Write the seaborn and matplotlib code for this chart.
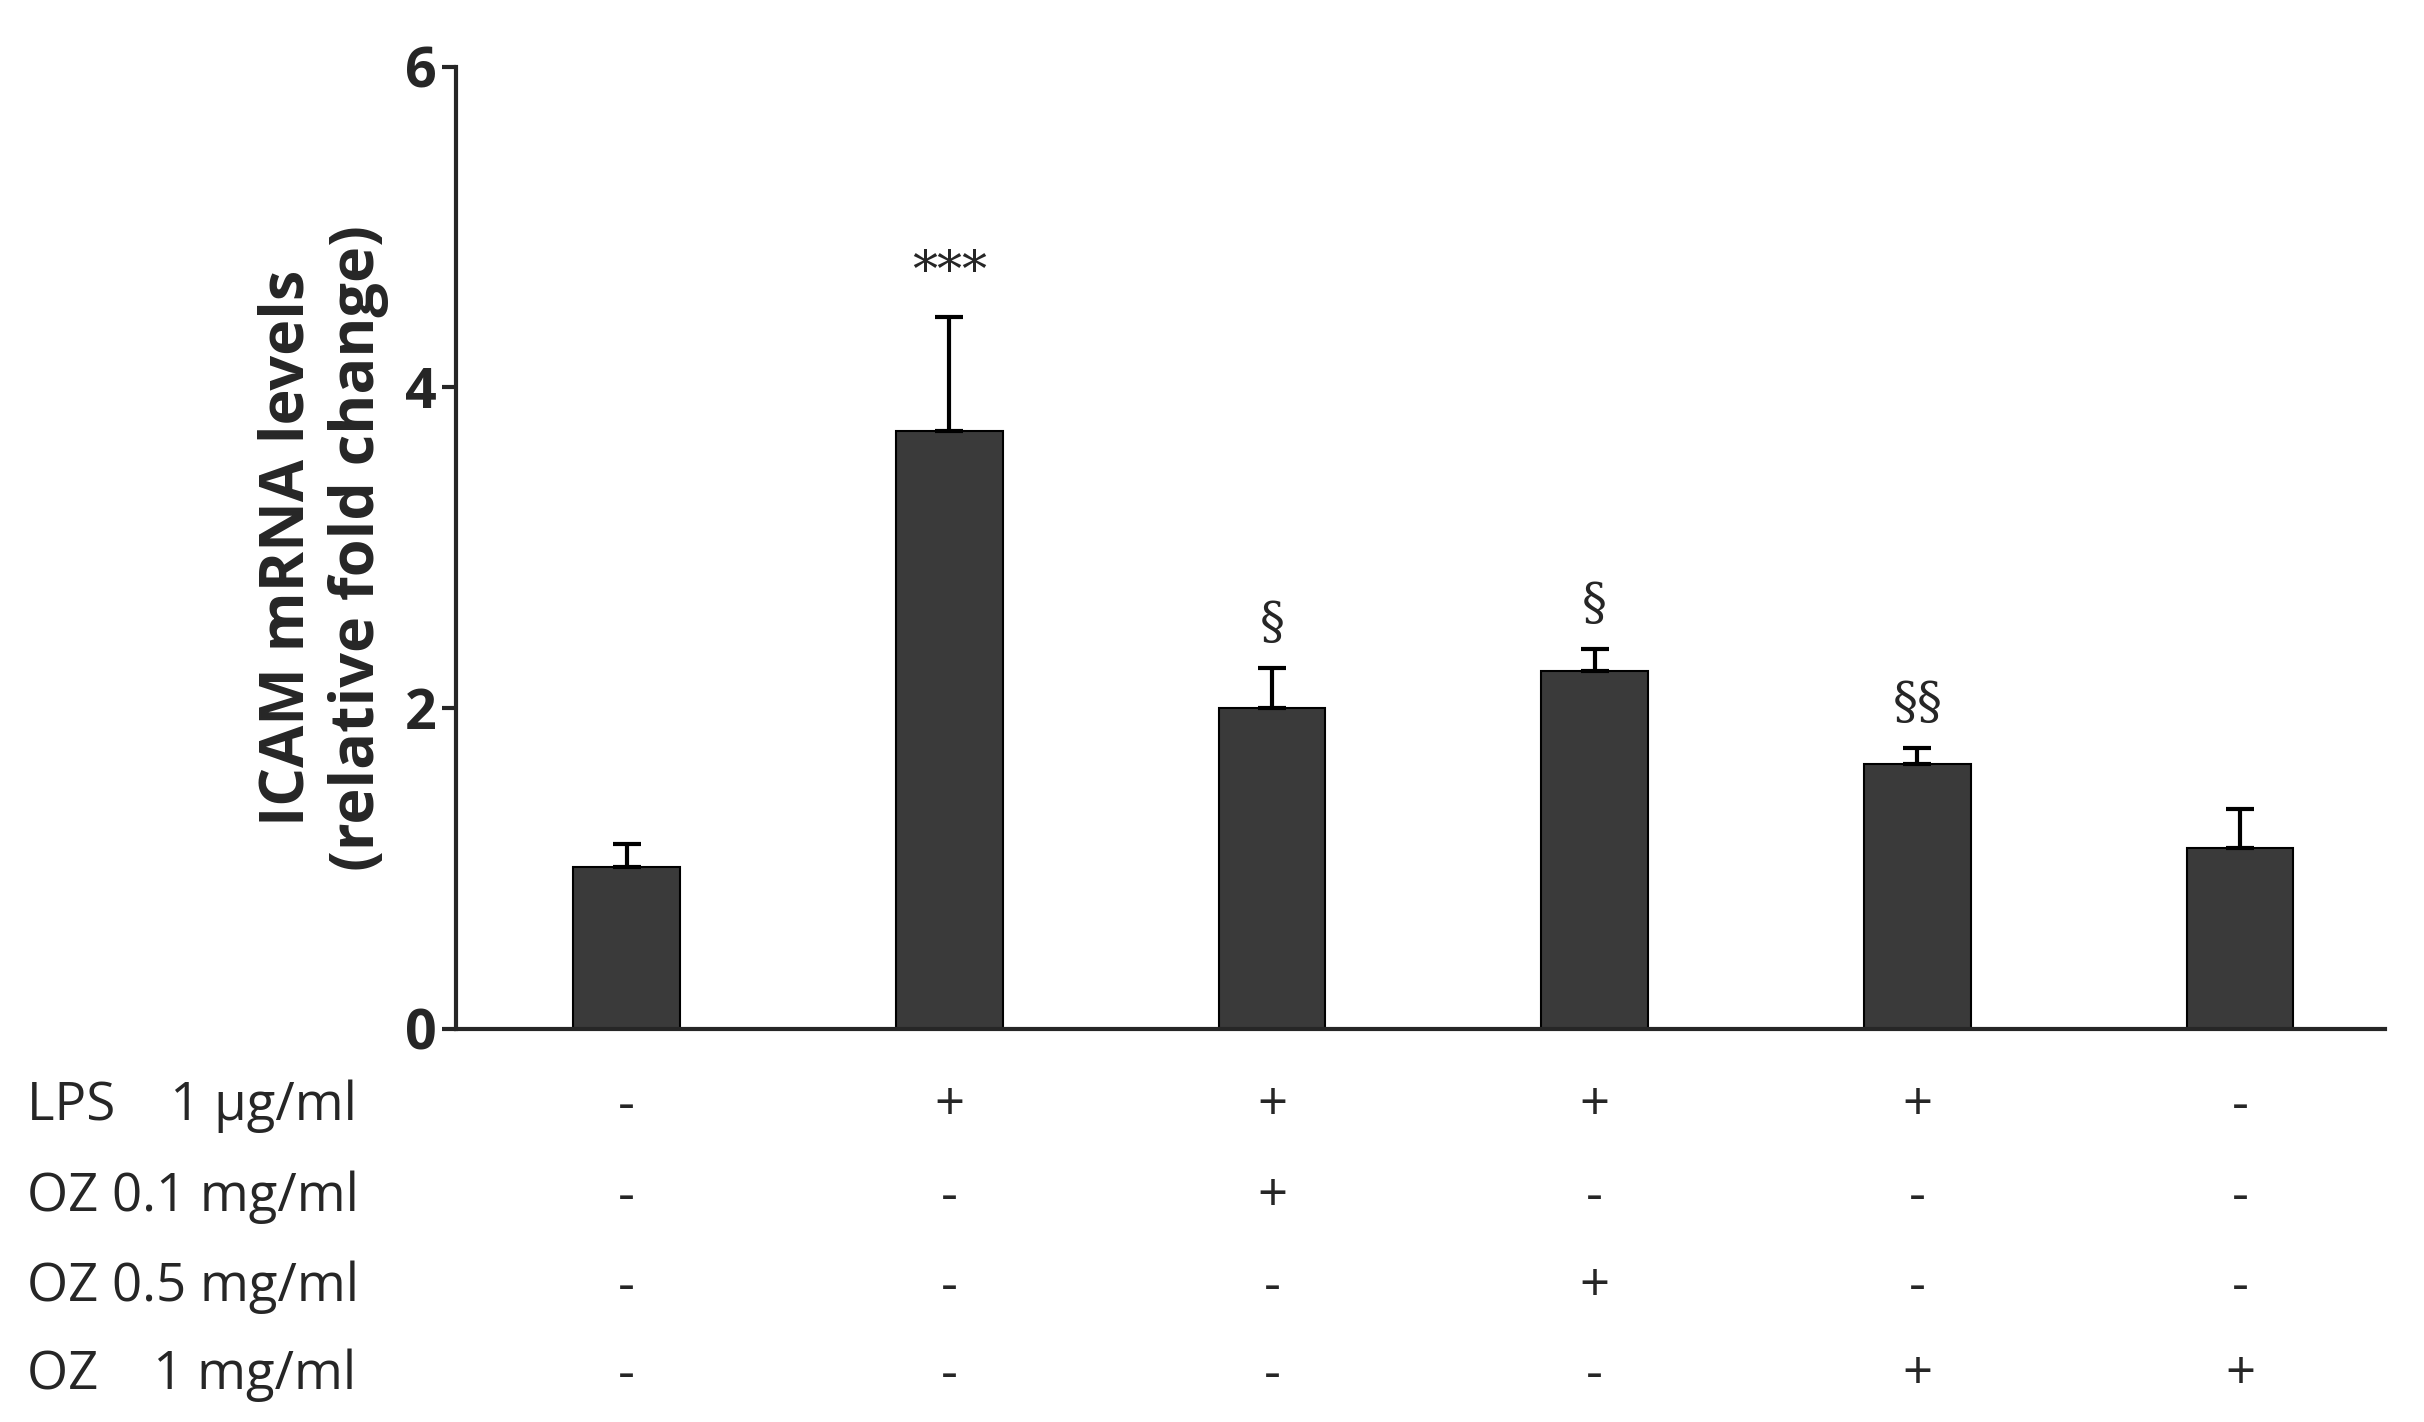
import numpy as np
import pandas as pd
import seaborn as sns
import matplotlib.pyplot as plt
from matplotlib.transforms import blended_transform_factory

groups = ['G1', 'G2', 'G3', 'G4', 'G5', 'G6']
means = [1.01, 3.73, 2.00, 2.23, 1.65, 1.13]
errs = [0.14, 0.71, 0.25, 0.14, 0.10, 0.24]
marks = ['', '***', '§', '§', '§§', '']
row_labels = ['LPS    1 µg/ml', 'OZ 0.1 mg/ml', 'OZ 0.5 mg/ml', 'OZ    1 mg/ml']
row_signs = [
    ['-', '+', '+', '+', '+', '-'],
    ['-', '-', '+', '-', '-', '-'],
    ['-', '-', '-', '+', '-', '-'],
    ['-', '-', '-', '-', '+', '+'],
]

sns.set_style('white')
plt.rcParams['font.family'] = ['Open Sans', 'DejaVu Sans']

df = pd.DataFrame({'group': groups, 'mean': means})
fig = plt.figure(figsize=(24.24, 14.22), dpi=100)
ax = fig.add_axes([0.188, 0.2765, 0.796, 0.6765])
sns.barplot(data=df, x='group', y='mean', color='#3a3a3a', saturation=1,
            width=0.33, edgecolor='black', linewidth=1.5, ax=ax)
x = np.arange(len(groups))
ax.errorbar(x, means, yerr=[np.zeros(len(errs)), errs], fmt='none',
            ecolor='black', elinewidth=3, capsize=10, capthick=3)
for xi, m, e, t in zip(x, means, errs, marks):
    if t:
        ax.text(xi, m + e + 0.12, t, ha='center', va='bottom', fontsize=36,
                family=['DejaVu Serif'])

ax.set_ylim(0, 6)
ax.set_xlim(-0.53, 5.45)
ax.set_yticks([0, 2, 4, 6])
ax.tick_params(axis='y', labelsize=40, width=3, length=10, direction='out', left=True)
for lbl in ax.get_yticklabels():
    lbl.set_fontweight('bold')
ax.set_xticks([])
ax.set_xlabel('')
ax.set_ylabel('ICAM mRNA levels\n(relative fold change)', fontsize=44,
              fontweight='bold', labelpad=12)
sns.despine(ax=ax)
ax.spines['left'].set_linewidth(3)
ax.spines['bottom'].set_linewidth(3)

tr = blended_transform_factory(ax.transData, fig.transFigure)
row_y = [0.222, 0.158, 0.095, 0.033]
for ry, lab, signs in zip(row_y, row_labels, row_signs):
    fig.text(0.011, ry, lab, fontsize=38, va='center', ha='left')
    for xi, s in zip(x, signs):
        ax.text(xi, ry, s, transform=tr, fontsize=38, va='center', ha='center',
                clip_on=False)

fig.savefig('out.png', dpi=100)
